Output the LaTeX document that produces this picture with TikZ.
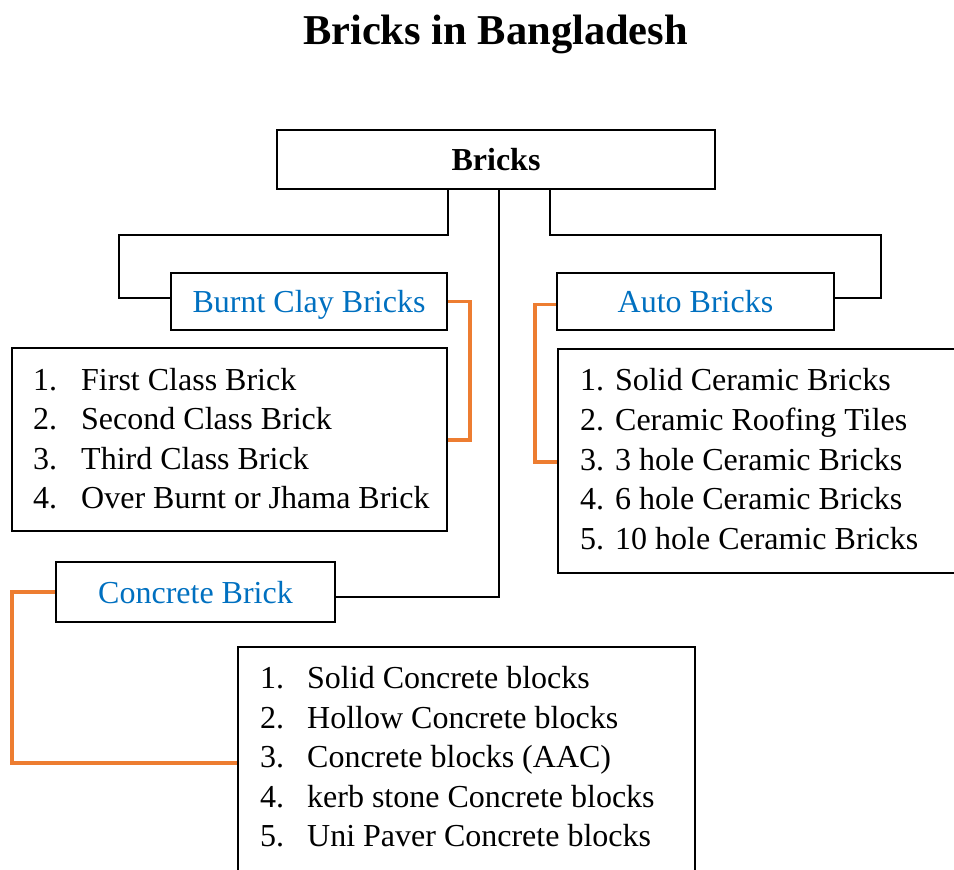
\documentclass[tikz,border=0pt]{standalone}
\usepackage{fontspec}
\setmainfont{Liberation Serif}
\definecolor{hdblue}{HTML}{0070C0}
\definecolor{hdorange}{HTML}{ED7D31}
\begin{document}
\begin{tikzpicture}[x=1pt,y=-1pt,
  box/.style={draw=black, line width=1.6pt, inner sep=0pt, rectangle, font=\fontsize{32}{38}\selectfont},
  headbox/.style={box, text=hdblue, text height=22pt, text depth=0pt},
  conn/.style={draw=black, line width=2.2pt},
  oconn/.style={draw=hdorange, line width=3.2pt},
  item/.style={anchor=base west, inner sep=0pt, font=\fontsize{32}{38}\selectfont}]
\useasboundingbox (0,0) rectangle (954,870);

% title
\node[anchor=base, inner sep=0pt, font=\fontsize{42.5}{50}\selectfont\bfseries] (title) at (495.5,45) {Bricks in Bangladesh};

% boxes
\node[box, minimum width=438pt, minimum height=59pt, text height=22pt, text depth=0pt] (bricks) at (496,159.5) {\bfseries Bricks};
\node[headbox, minimum width=276pt, minimum height=57pt] (burnt) at (309,301.5) {Burnt Clay Bricks};
\node[headbox, minimum width=277pt, minimum height=57pt] (auto) at (695.5,301.5) {Auto Bricks};
\node[headbox, minimum width=279pt, minimum height=60pt] (conc) at (195.5,592) {Concrete Brick};

\node[box, minimum width=435pt, minimum height=183pt] (burntlist) at (229.5,439.5) {};
\node[box, minimum width=410pt, minimum height=224pt] (autolist) at (763,461) {};
\node[box, minimum width=457pt, minimum height=235pt] (conclist) at (466.5,764.5) {};

% list items
\node[item] (b1) at (33,390) {\makebox[48pt][l]{1.}First Class Brick};
\node[item] (b2) at (33,429.5) {\makebox[48pt][l]{2.}Second Class Brick};
\node[item] (b3) at (33,469) {\makebox[48pt][l]{3.}Third Class Brick};
\node[item] (b4) at (33,508.5) {\makebox[48pt][l]{4.}Over Burnt or Jhama Brick};

\node[item] (a1) at (580,390) {\makebox[35pt][l]{1.}Solid Ceramic Bricks};
\node[item] (a2) at (580,430) {\makebox[35pt][l]{2.}Ceramic Roofing Tiles};
\node[item] (a3) at (580,470) {\makebox[35pt][l]{3.}3 hole Ceramic Bricks};
\node[item] (a4) at (580,509) {\makebox[35pt][l]{4.}6 hole Ceramic Bricks};
\node[item] (a5) at (580,549) {\makebox[35pt][l]{5.}10 hole Ceramic Bricks};

\node[item] (c1) at (260,688) {\makebox[47pt][l]{1.}Solid Concrete blocks};
\node[item] (c2) at (260,728) {\makebox[47pt][l]{2.}Hollow Concrete blocks};
\node[item] (c3) at (260,767) {\makebox[47pt][l]{3.}Concrete blocks (AAC)};
\node[item] (c4) at (260,807) {\makebox[47pt][l]{4.}kerb stone Concrete blocks};
\node[item] (c5) at (260,846) {\makebox[47pt][l]{5.}Uni Paver Concrete blocks};

% black connectors
\coordinate (jl) at (448,235);
\coordinate (jlx) at (119,298);
\draw[conn] (bricks.south -| jl) -- (jl) -| (jlx) -- (burnt.west |- jlx);

\coordinate (jm) at (499,597);
\draw[conn] (bricks.south -| jm) -- (jm) -- (conc.east |- jm);

\coordinate (jr) at (550,235);
\coordinate (jrx) at (881,298);
\draw[conn] (bricks.south -| jr) -- (jr) -| (jrx) -- (auto.east |- jrx);

% orange connectors
\coordinate (ob) at (470,440);
\draw[oconn] (burnt.east) -- (burnt.east -| ob) -- (ob) -- (burntlist.east |- ob);

\coordinate (oa) at (535,462);
\draw[oconn] ([yshift=-3pt]auto.west) -- ([yshift=-3pt]auto.west -| oa) -- (oa) -- (autolist.west |- oa);

\coordinate (oc) at (12,763);
\draw[oconn] (conc.west) -- (conc.west -| oc) -- (oc) -- (conclist.west |- oc);
\end{tikzpicture}
\end{document}
